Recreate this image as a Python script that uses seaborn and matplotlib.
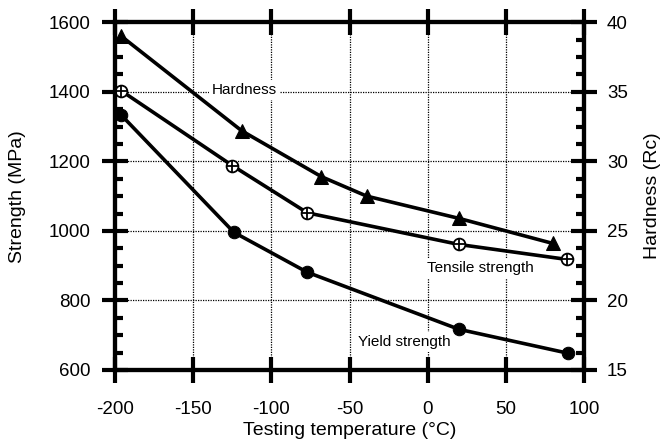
import matplotlib
matplotlib.use('Agg')
import matplotlib.pyplot as plt
import matplotlib.ticker as mticker
import seaborn as sns
import pandas as pd

# data
hard_temp = [-196, -119, -68, -39, 20, 80]
hard_rc = [39.0, 32.2, 28.9, 27.5, 25.9, 24.1]

tens_temp = [-196, -125, -77, 20, 89]
tens_mpa = [1403, 1188, 1052, 961, 918]

yield_temp = [-196, -124, -77, 20, 90]
yield_mpa = [1333, 996, 881, 717, 648]

x_ticks = [-200, -150, -100, -50, 0, 50, 100]
y_ticks = [600, 800, 1000, 1200, 1400, 1600]
rc_ticks = [15, 20, 25, 30, 35, 40]

sns.set_style('ticks')
plt.rcParams['font.family'] = ['Liberation Sans', 'DejaVu Sans']
plt.rcParams['axes.unicode_minus'] = False
plt.rcParams.update({'text.color': 'black', 'axes.labelcolor': 'black',
                     'xtick.color': 'black', 'ytick.color': 'black'})

hard = pd.DataFrame({'T': hard_temp, 'v': hard_rc})
tens = pd.DataFrame({'T': tens_temp, 'v': tens_mpa})
yld = pd.DataFrame({'T': yield_temp, 'v': yield_mpa})

fig = plt.figure(figsize=(6.63, 4.44), dpi=100)
ax = fig.add_axes([0.1735, 0.1667, 0.7074, 0.7831])
ax2 = ax.twinx()

LW = 2.6
sns.lineplot(data=yld, x='T', y='v', ax=ax, color='black', linewidth=LW,
             marker='o', markersize=9, markeredgecolor='black', zorder=4)
sns.lineplot(data=tens, x='T', y='v', ax=ax, color='black', linewidth=LW,
             marker='o', markersize=8.5, markerfacecolor='white',
             markeredgecolor='black', markeredgewidth=1.3, zorder=4)
ax.plot(tens['T'], tens['v'], linestyle='none', marker='+', markersize=8.5,
        markeredgewidth=1.3, color='black', zorder=5)
sns.lineplot(data=hard, x='T', y='v', ax=ax2, color='black', linewidth=LW,
             marker='^', markersize=10.5, markeredgecolor='black', zorder=4)

ax.set_xlim(-200, 100)
ax.set_ylim(600, 1600)
ax2.set_ylim(15, 40)
ax.set_xticks(x_ticks)
ax.set_yticks(y_ticks)
ax2.set_yticks(rc_ticks)
ax.yaxis.set_minor_locator(mticker.MultipleLocator(50))
ax2.yaxis.set_minor_locator(mticker.MultipleLocator(1.25))

ax.grid(True, which='major', color='black', linestyle=(0, (1, 1)), linewidth=0.9)
ax.set_axisbelow(True)

for a in (ax, ax2):
    for sp in a.spines.values():
        sp.set_visible(True)
        sp.set_linewidth(3)
        sp.set_color('black')

ax.tick_params(axis='x', which='major', direction='inout', length=19, width=3,
               top=True, bottom=True, labelsize=13.5, pad=13)
ax.tick_params(axis='y', which='major', direction='inout', length=19, width=3,
               left=True, right=False, labelsize=13.5, pad=8)
ax.tick_params(axis='y', which='minor', direction='in', length=6, width=3,
               left=True, right=False)
ax2.tick_params(axis='y', which='major', direction='inout', length=19, width=3,
                right=True, left=False, labelsize=13.5, pad=7)
ax2.tick_params(axis='y', which='minor', direction='in', length=6, width=3,
                right=True, left=False)

ax.set_xlabel('Testing temperature (°C)', fontsize=14)
ax.set_ylabel('Strength (MPa)', fontsize=14)
ax2.set_ylabel('Hardness (Rc)', fontsize=14)
ax.xaxis.label.set_va('center')
ax.xaxis.set_label_coords(0.5, -0.175)
ax.yaxis.label.set_va('center')
ax.yaxis.set_label_coords(-0.208, 0.5)
ax2.yaxis.label.set_va('center')
ax2.yaxis.set_label_coords(1.146, 0.5)

box = dict(facecolor='white', edgecolor='none', pad=2)
ax.text(-138, 1405, 'Hardness', fontsize=11, va='center', ha='left', bbox=box, zorder=3)
ax.text(-0.6, 894, 'Tensile strength', fontsize=11, va='center', ha='left', bbox=box, zorder=3)
ax.text(-44.6, 680, 'Yield strength', fontsize=11, va='center', ha='left', bbox=box, zorder=3)

fig.savefig('out.png', dpi=100)
plt.close(fig)
